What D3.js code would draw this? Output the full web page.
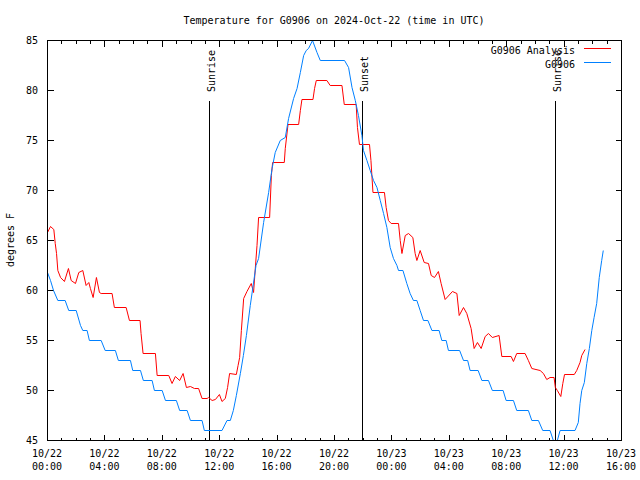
<!DOCTYPE html>
<html><head><meta charset="utf-8">
<script src="https://cdn.jsdelivr.net/npm/d3@7"></script>
<style>
html,body{margin:0;padding:0;background:#fff;}
text{font-family:"DejaVu Sans Mono","Liberation Mono",monospace;font-size:10px;fill:#000;}
</style></head>
<body><svg id="c" width="640" height="480"></svg>
<script>
// Hours since 2024-10-22 00:00 UTC
const analysisHours = [0.00,0.21,0.44,0.54,0.63,0.72,0.91,1.18,1.46,1.65,1.95,2.18,2.46,2.69,2.88,2.99,3.18,3.41,3.62,3.74,4.50,4.66,5.48,5.71,6.45,6.52,6.66,7.52,7.64,8.45,8.68,8.91,9.21,9.45,9.68,9.96,10.24,10.53,10.77,11.12,11.23,11.47,11.70,11.98,12.16,12.39,12.55,12.69,13.16,13.28,13.39,13.51,13.67,13.90,14.20,14.36,14.48,14.60,14.71,15.48,15.60,15.69,16.50,16.57,16.76,17.50,17.62,17.73,18.50,18.61,18.73,19.47,19.70,20.52,20.68,21.51,21.60,21.74,22.44,22.54,22.68,23.48,23.60,23.76,23.95,24.46,24.58,24.70,24.93,25.16,25.46,25.62,25.74,25.97,26.25,26.55,26.74,26.97,27.24,27.43,27.71,28.22,28.53,28.69,28.99,29.22,29.52,29.73,29.96,30.22,30.50,30.73,31.00,31.47,31.66,32.31,32.47,32.70,33.28,33.51,33.75,34.33,34.56,34.79,35.02,35.30,35.39,35.53,35.77,35.91,36.03,36.71,36.88,37.11,37.23,37.46];
const analysisTemps = [65.8,66.4,66.1,64.7,63.7,62.0,61.3,60.9,62.2,61.0,60.7,61.8,62.0,60.5,60.8,60.2,59.3,61.3,59.8,59.7,59.7,58.3,58.3,57.0,57.0,55.7,53.7,53.7,51.5,51.5,50.7,51.4,51.0,51.7,50.3,50.4,50.2,50.2,49.2,49.2,49.3,49.0,49.1,49.6,48.9,49.2,50.3,51.7,51.6,52.5,53.3,56.0,59.2,59.9,60.7,59.8,62.2,64.5,67.3,67.3,71.5,72.8,72.8,74.2,76.6,76.6,78.0,79.1,79.1,80.2,81.0,81.0,80.5,80.5,78.6,78.6,76.3,74.6,74.6,73.0,69.8,69.8,68.3,67.0,66.7,66.7,65.0,63.7,65.5,65.7,65.3,63.7,63.0,64.0,62.8,62.7,61.5,61.3,61.9,60.7,59.1,59.9,59.7,57.5,58.3,57.7,56.2,54.2,54.8,54.2,55.4,55.7,55.3,55.5,53.4,53.4,52.9,53.7,53.7,53.0,52.2,52.0,51.7,51.1,51.3,51.3,50.3,50.0,49.4,50.7,51.6,51.6,52.0,52.8,53.5,54.1];
const obsHours = [0.00,0.21,0.42,0.72,1.23,1.48,2.00,2.30,2.46,2.76,2.92,3.74,4.02,4.73,4.94,5.78,5.94,6.48,6.68,7.29,7.45,7.99,8.22,8.98,9.21,9.73,9.96,10.77,10.93,12.16,12.51,12.74,12.95,13.16,13.44,13.65,13.86,14.13,14.53,14.71,15.06,15.41,15.65,15.87,16.22,16.57,16.80,17.15,17.39,17.62,17.85,18.03,18.19,18.47,18.78,19.01,20.70,20.98,21.22,21.45,21.67,21.91,22.02,22.26,22.49,22.72,22.96,23.19,23.42,23.65,23.88,24.11,24.35,24.46,24.77,25.04,25.27,25.50,25.74,25.97,26.20,26.51,26.79,27.29,27.48,27.78,27.94,28.72,28.99,29.28,29.45,30.01,30.27,30.73,31.00,31.75,31.96,32.47,32.70,33.51,33.75,34.21,34.51,35.02,35.25,35.53,35.72,36.76,36.99,37.11,37.23,37.41,37.58,37.76,37.93,38.09,38.27,38.45,38.62,38.73];
const obsTemps = [61.8,61.0,60.0,59.0,59.0,58.0,58.0,56.5,56.0,56.0,55.0,55.0,54.0,54.0,53.0,53.0,52.0,52.0,51.0,51.0,50.0,50.0,49.0,49.0,48.0,48.0,47.0,47.0,46.0,46.0,47.0,47.0,48.0,49.5,51.7,53.5,55.5,58.5,62.5,63.2,66.8,69.8,72.2,73.8,75.0,75.3,77.2,79.2,80.2,81.8,83.5,84.0,84.2,85.0,83.8,83.0,83.0,82.3,80.3,79.0,77.5,75.5,74.0,73.0,72.0,71.0,70.3,69.0,67.7,66.3,64.3,63.2,62.5,62.0,62.0,60.7,59.7,59.0,59.0,58.0,57.0,57.0,56.0,56.0,55.0,55.0,54.0,54.0,53.0,53.0,52.0,52.0,51.0,51.0,50.0,50.0,49.0,49.0,48.0,48.0,47.0,47.0,46.0,46.0,45.0,45.0,46.0,46.0,46.8,48.7,50.0,50.8,52.7,54.2,56.0,57.3,58.7,61.3,63.0,64.0];
const sunEventHours = [11.30, 21.95, 35.39];
const sunEventLabels = ["Sunrise", "Sunset", "Sunrise"];
const yTicks = [45,50,55,60,65,70,75,80,85];
const seriesNames = ["G0906 Analysis", "G0906"];
const seriesColors = ["#ff0000", "#0080ff"];
const titleText = "Temperature for G0906 on 2024-Oct-22 (time in UTC)";
const yLabelText = "degrees F";

const t0 = Date.UTC(2024, 9, 22, 0, 0);
const toDate = h => new Date(t0 + h * 3600000);

const L = 47, R = 621, T = 40, B = 440;
const svg = d3.select("#c");
const x = d3.scaleUtc().domain([toDate(0), toDate(40)]).range([L, R]);
const y = d3.scaleLinear().domain([45, 85]).range([B, T]);

const g = svg.append("g").attr("transform", "translate(0.5,0.5)");

// title
svg.append("text").attr("x", (L + R) / 2).attr("y", 24).attr("text-anchor", "middle").text(titleText);
// y label
svg.append("text").attr("transform", `translate(14,${(T + B) / 2}) rotate(-90)`).attr("text-anchor", "middle").text(yLabelText);

// ticks
const hourTicks = d3.utcHour.every(1).range(toDate(0), toDate(40.01));
const tickG = g.append("g").attr("shape-rendering", "crispEdges").attr("stroke", "#000").attr("stroke-width", 1);
hourTicks.forEach(d => {
  const major = d.getUTCHours() % 4 === 0;
  const len = major ? 6 : 3;
  const xx = Math.round(x(d));
  tickG.append("line").attr("x1", xx).attr("x2", xx).attr("y1", B).attr("y2", B - len);
  tickG.append("line").attr("x1", xx).attr("x2", xx).attr("y1", T).attr("y2", T + len);
});
yTicks.forEach(v => {
  const yy = Math.round(y(v));
  tickG.append("line").attr("x1", L).attr("x2", L + 6).attr("y1", yy).attr("y2", yy);
  tickG.append("line").attr("x1", R).attr("x2", R - 6).attr("y1", yy).attr("y2", yy);
});

// tick labels
const fmtD = d3.utcFormat("%m/%d"), fmtH = d3.utcFormat("%H:%M");
d3.utcHour.every(4).range(toDate(0), toDate(40.01)).forEach(d => {
  const xx = x(d);
  svg.append("text").attr("x", xx).attr("y", 457).attr("text-anchor", "middle").text(fmtD(d));
  svg.append("text").attr("x", xx).attr("y", 470).attr("text-anchor", "middle").text(fmtH(d));
});
yTicks.forEach(v => {
  svg.append("text").attr("x", 38).attr("y", y(v) + 3.5).attr("text-anchor", "end").text(v);
});

// sun event lines
sunEventHours.forEach((h, i) => {
  const xx = Math.round(x(toDate(h)));
  g.append("line").attr("x1", xx).attr("x2", xx).attr("y1", 100).attr("y2", B)
    .attr("stroke", "#000").attr("shape-rendering", "crispEdges");
  svg.append("text").attr("transform", `translate(${xx + 6},92) rotate(-90)`)
    .attr("text-anchor", "start").text(sunEventLabels[i]);
});

// data lines
const line = d3.line().x(d => x(toDate(d[0]))).y(d => y(d[1]));
const series = [
  d3.zip(analysisHours, analysisTemps),
  d3.zip(obsHours, obsTemps)
];
series.forEach((s, i) => {
  g.append("path").datum(s).attr("d", line).attr("fill", "none")
    .attr("stroke", seriesColors[i]).attr("stroke-width", 1);
});

// border
g.append("rect").attr("x", L).attr("y", T).attr("width", R - L).attr("height", B - T)
  .attr("fill", "none").attr("stroke", "#000").attr("shape-rendering", "crispEdges");

// legend
seriesNames.forEach((n, i) => {
  const yy = 48 + i * 14;
  svg.append("text").attr("x", 575).attr("y", yy + 5.5).attr("text-anchor", "end").text(n);
  g.append("line").attr("x1", 583).attr("x2", 610).attr("y1", yy).attr("y2", yy)
    .attr("stroke", seriesColors[i]).attr("shape-rendering", "crispEdges");
});
</script></body></html>
